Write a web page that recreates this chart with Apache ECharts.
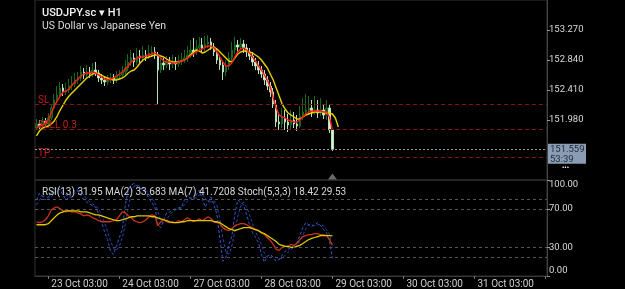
<!DOCTYPE html>
<html><head><meta charset="utf-8">
<script src="https://cdn.jsdelivr.net/npm/echarts@6/dist/echarts.min.js"></script>
<style>html,body{margin:0;padding:0;background:#000;}#c{width:625px;height:289px;}</style>
</head><body><div id="c"></div>
<script>
const tickLabels = ['23 Oct 03:00','24 Oct 03:00','27 Oct 03:00','28 Oct 03:00','29 Oct 03:00','30 Oct 03:00','31 Oct 03:00'];
// [open, close, low, high]
const candles = [
[151.865,151.923,151.837,151.994],[151.923,151.894,151.851,151.980],[151.894,151.966,151.865,152.023],[151.966,151.923,151.880,152.009],
[151.923,152.009,151.894,152.080],[152.009,152.152,151.980,152.209],[152.152,152.267,152.123,152.353],[152.267,152.338,152.224,152.467],
[152.338,152.439,152.295,152.525],[152.439,152.381,152.324,152.496],[152.381,152.410,152.338,152.510],[152.410,152.467,152.367,152.568],
[152.467,152.496,152.410,152.611],[152.496,152.553,152.453,152.654],[152.553,152.582,152.496,152.668],[152.582,152.668,152.539,152.754],
[152.668,152.625,152.568,152.725],[152.625,152.668,152.582,152.768],[152.668,152.639,152.582,152.740],[152.639,152.697,152.596,152.797],
[152.697,152.654,152.611,152.811],[152.654,152.582,152.525,152.697],[152.582,152.553,152.496,152.639],[152.553,152.525,152.467,152.611],
[152.525,152.553,152.482,152.625],[152.553,152.582,152.510,152.654],[152.582,152.553,152.496,152.639],[152.553,152.611,152.510,152.682],
[152.611,152.625,152.553,152.697],[152.625,152.668,152.582,152.754],[152.668,152.725,152.625,152.840],[152.725,152.811,152.682,152.926],
[152.811,152.869,152.754,152.983],[152.869,152.811,152.740,152.940],[152.811,152.897,152.768,153.012],[152.897,152.869,152.797,152.983],
[152.869,152.912,152.811,153.041],[152.912,152.883,152.826,152.983],[152.883,152.940,152.854,153.055],[152.940,152.955,152.883,153.041],
[152.955,152.912,152.854,153.026],[152.912,152.697,152.195,152.955],[152.697,152.797,152.654,152.869],[152.797,152.768,152.697,152.869],
[152.768,152.811,152.725,152.897],[152.811,152.783,152.697,152.883],[152.783,152.811,152.725,152.912],[152.811,152.783,152.697,152.883],
[152.783,152.826,152.740,152.912],[152.826,152.840,152.768,152.940],[152.840,152.869,152.797,152.983],[152.869,152.912,152.811,153.041],
[152.912,152.983,152.869,153.127],[152.983,152.955,152.883,153.155],[152.955,153.012,152.912,153.127],[153.012,153.055,152.955,153.170],
[153.055,153.012,152.955,153.155],[153.012,153.069,152.969,153.184],[153.069,153.098,153.012,153.198],[153.098,153.026,152.983,153.155],
[153.026,152.955,152.897,153.084],[152.955,152.840,152.783,153.012],[152.840,152.768,152.697,152.897],[152.768,152.668,152.553,152.811],
[152.668,152.754,152.611,152.840],[152.754,152.869,152.697,152.955],[152.869,152.983,152.811,153.098],[152.983,153.055,152.926,153.170],
[153.055,153.026,152.955,153.127],[153.026,153.069,152.983,153.155],[153.069,153.012,152.940,153.127],[153.012,152.955,152.883,153.069],
[152.955,152.897,152.840,153.012],[152.897,152.811,152.754,152.955],[152.811,152.754,152.697,152.869],[152.754,152.697,152.639,152.826],
[152.697,152.639,152.582,152.754],[152.639,152.553,152.482,152.697],[152.553,152.467,152.410,152.611],[152.467,152.381,152.310,152.525],
[152.381,152.195,152.152,152.439],[152.195,151.951,151.880,152.267],[151.951,151.923,151.837,152.095],[151.923,152.009,151.865,152.152],
[152.009,151.951,151.837,152.123],[151.951,151.908,151.808,152.066],[151.908,151.980,151.851,152.123],[151.980,151.923,151.865,152.095],
[151.923,151.894,151.822,152.052],[151.894,152.037,151.865,152.181],[152.037,152.095,151.980,152.295],[152.095,152.123,152.037,152.353],
[152.123,152.152,152.066,152.324],[152.152,152.095,152.023,152.267],[152.095,152.123,152.052,152.324],[152.123,152.080,152.009,152.267],
[152.080,152.123,152.037,152.295],[152.123,152.052,151.994,152.209],[152.052,152.152,151.980,152.267],[152.152,151.837,151.794,152.209],
[151.837,151.559,151.536,151.851]
];
const maFast = [151.865,151.894,151.908,151.937,151.980,152.080,152.181,152.252,152.324,152.381,
152.396,152.424,152.482,152.525,152.568,152.611,152.639,152.654,152.654,152.668,
152.654,152.625,152.596,152.568,152.553,152.568,152.582,152.611,152.639,152.668,
152.711,152.754,152.811,152.840,152.869,152.883,152.883,152.897,152.912,152.926,
152.940,152.912,152.869,152.826,152.811,152.811,152.797,152.797,152.811,152.826,
152.840,152.869,152.897,152.926,152.955,152.983,152.998,153.026,153.041,153.041,
153.012,152.955,152.883,152.811,152.754,152.754,152.797,152.883,152.955,152.998,
153.012,152.983,152.940,152.883,152.826,152.754,152.697,152.625,152.553,152.453,
152.295,152.152,152.052,152.023,152.009,151.980,151.966,151.951,151.951,151.980,
152.023,152.066,152.095,152.109,152.109,152.109,152.109,152.095,152.095,152.023,
151.837];
const maSlow = [151.751,151.822,151.865,151.880,151.894,151.923,151.966,152.037,152.123,152.195,
152.267,152.324,152.367,152.410,152.453,152.496,152.539,152.582,152.611,152.639,
152.654,152.639,152.625,152.596,152.582,152.568,152.553,152.553,152.568,152.582,
152.611,152.654,152.682,152.697,152.740,152.797,152.840,152.869,152.883,152.897,
152.912,152.912,152.897,152.883,152.854,152.826,152.811,152.811,152.811,152.826,
152.840,152.869,152.912,152.955,152.983,152.969,152.940,152.955,152.983,153.012,
153.026,152.998,152.955,152.912,152.869,152.826,152.811,152.869,152.926,152.955,
152.969,152.969,152.955,152.940,152.912,152.883,152.840,152.783,152.725,152.639,
152.553,152.439,152.324,152.209,152.138,152.080,152.052,152.023,151.994,151.994,
152.023,152.052,152.066,152.080,152.095,152.095,152.095,152.095,152.080,152.080,
152.066,152.009,151.880];
const rsiLine = [56.5,55.5,56.5,58.6,62.7,68.9,70.9,71.9,69.9,67.8,
66.8,67.8,66.8,66.8,65.8,64.7,62.7,63.7,62.7,60.6,
59.6,57.6,56.5,56.5,56.5,56.5,57.6,58.6,62.7,66.8,
65.8,62.7,60.6,57.6,56.5,55.5,56.5,58.6,61.7,63.7,
62.7,52.4,56.5,58.6,56.5,55.5,56.5,55.5,57.6,56.5,
58.6,60.6,58.6,56.5,57.6,59.6,57.6,59.6,61.7,59.6,
56.5,55.5,54.5,50.4,48.3,47.3,49.3,52.4,53.4,54.5,
54.5,53.4,51.4,50.4,48.3,47.3,45.2,43.2,40.1,37.0,
32.9,27.7,26.7,29.8,30.8,30.8,32.9,31.9,33.9,38.0,
41.1,42.1,43.2,43.2,44.2,44.2,43.2,43.2,42.1,38.0,
31.95];
const rsiMA = [53.4,53.4,53.4,53.4,54.5,57.6,60.6,63.7,65.8,66.8,
67.8,67.8,67.8,67.8,67.8,66.8,66.8,66.8,65.8,64.7,
63.7,63.7,62.7,61.7,60.6,59.6,58.6,57.6,57.6,58.6,
59.6,60.6,61.7,61.7,62.7,62.7,62.7,62.7,62.7,61.7,
61.7,60.6,59.6,58.6,57.6,56.5,55.5,55.5,55.5,56.5,
56.5,57.6,57.6,57.6,57.6,57.6,57.6,57.6,57.6,57.6,
56.5,56.5,55.5,53.4,51.4,49.3,48.3,47.3,48.3,49.3,
50.4,50.4,50.4,49.3,48.3,47.3,45.2,44.2,42.1,40.1,
38.0,36.0,32.9,31.9,30.8,30.8,29.8,29.8,30.8,31.9,
33.9,36.0,38.0,39.1,40.1,41.1,42.1,42.1,42.1,42.1,
41.72];
const stochMain = [79.1,86.3,83.2,79.1,82.2,86.3,89.4,92.5,89.4,84.3,
79.1,82.2,86.3,89.4,89.4,84.3,79.1,77.1,75.0,73.0,
71.9,63.7,55.5,46.2,38.0,25.7,22.6,30.8,40.1,48.3,
74.0,89.4,94.6,96.6,93.5,91.5,89.4,86.3,81.2,76.1,
71.9,53.4,50.4,58.6,65.8,66.8,68.9,69.9,70.9,71.9,
79.1,84.3,81.2,79.1,84.3,89.4,81.2,71.9,77.1,82.2,
74.0,63.7,38.0,15.4,19.5,32.9,41.1,63.7,79.1,77.1,
74.0,63.7,53.4,45.2,40.1,34.9,22.6,14.4,20.6,22.6,
19.5,15.4,17.5,21.6,25.7,27.7,29.8,31.9,34.9,42.1,
50.4,55.5,53.4,51.4,53.4,55.5,52.4,48.3,45.2,36.0,
18.42];
const stochSignal = [74.0,79.1,83.2,83.2,81.2,82.2,86.3,89.4,90.4,88.4,
84.3,82.2,82.2,86.3,88.4,87.4,84.3,80.2,77.1,75.0,
73.0,69.9,63.7,55.5,46.2,37.0,28.8,26.7,30.8,40.1,
53.4,70.9,86.3,93.5,94.6,93.5,91.5,89.4,85.3,81.2,
76.1,66.8,58.6,54.5,58.6,63.7,66.8,68.9,69.9,70.9,
74.0,78.1,81.2,81.2,81.2,84.3,85.3,81.2,77.1,77.1,
78.1,73.0,58.6,39.1,24.7,22.6,30.8,46.2,61.7,73.0,
77.1,72.0,63.7,54.5,46.2,40.1,32.9,23.6,19.5,19.5,
20.6,19.5,17.5,18.5,21.6,24.7,27.7,29.8,31.9,36.0,
42.1,49.3,53.4,53.4,52.4,53.4,53.4,52.4,48.3,43.2,
29.53];
const priceTicks = [153.270, 152.840, 152.410, 151.980];
const rsiTicks = [0, 30, 70, 100];
const rsiLevels = [20, 30, 70, 80];
const levelSL = 152.200, levelSell = 151.846, levelBid = 151.559, levelTP = 151.435;
const countdown = '53:39';

const font = 'Roboto, "Liberation Sans", sans-serif';
const totalSlots = 173, firstTick = 4, slotsPerDay = 24;
const slots = Array.from({length: totalSlots}, (_, i) => String(i));
const isTick = i => i >= firstTick && (i - firstTick) % slotsPerDay === 0;
const lastIdx = candles.length - 1;
const priceMin = 151.120, priceMax = 153.700;

const chart = echarts.init(document.getElementById('c'), null, {renderer: 'canvas', width: 625, height: 289});
const red = '#c0221e', lvl = '#7c1818';

chart.setOption({
  backgroundColor: '#000',
  animation: false,
  textStyle: {fontFamily: font},
  title: [
    {text: 'USDJPY.sc ▾ H1', left: 37, top: 3, textStyle: {color: '#f2f2f2', fontSize: 11, fontWeight: 500, fontFamily: font}},
    {text: 'US Dollar vs Japanese Yen', left: 37, top: 16, textStyle: {color: '#dcdcdc', fontSize: 10.5, fontWeight: 'normal', fontFamily: font}},
    {text: 'RSI(13) 31.95 MA(2) 33.683 MA(7) 41.7208 Stoch(5,3,3) 18.42 29.53', left: 37, top: 182, textStyle: {color: '#d6d6d6', fontSize: 10, fontWeight: 'normal', fontFamily: font}}
  ],
  grid: [
    {left: 35, right: 78, top: 0, height: 180, show: true, borderColor: '#333', borderWidth: 1},
    {left: 35, right: 78, top: 180, height: 97, show: true, borderColor: '#333', borderWidth: 1}
  ],
  xAxis: [
    {type: 'category', gridIndex: 0, data: slots, boundaryGap: true,
     axisLine: {show: false}, axisTick: {show: false}, axisLabel: {show: false}, splitLine: {show: false}},
    {type: 'category', gridIndex: 1, data: slots, boundaryGap: true,
     axisLine: {show: true, lineStyle: {color: '#3a3a3a'}},
     axisTick: {show: true, interval: (i) => isTick(i), alignWithLabel: true, length: 3, lineStyle: {color: '#777'}},
     axisLabel: {show: true, interval: (i) => isTick(i), formatter: (v, i) => tickLabels[(i - firstTick) / slotsPerDay],
       color: '#cfcfcf', fontSize: 10, margin: 3, align: 'left', padding: [0, 0, 0, 3], fontFamily: font},
     splitLine: {show: false}}
  ],
  yAxis: [
    {type: 'value', gridIndex: 0, position: 'right', min: priceMin, max: priceMax,
     splitLine: {show: false}, axisLine: {show: true, lineStyle: {color: '#444'}},
     axisTick: {show: true, customValues: priceTicks, length: 3, lineStyle: {color: '#999'}},
     axisLabel: {customValues: priceTicks, formatter: v => v.toFixed(3), color: '#dadada', fontSize: 9.5, margin: 2, fontFamily: font}},
    {type: 'value', gridIndex: 1, position: 'right', min: 0, max: 100,
     splitLine: {show: false}, axisLine: {show: true, lineStyle: {color: '#444'}},
     axisTick: {show: true, customValues: rsiTicks, length: 3, lineStyle: {color: '#999'}},
     axisLabel: {customValues: rsiTicks, formatter: v => v.toFixed(2), color: '#dadada', fontSize: 9.5, margin: 2,
       verticalAlignMaxLabel: 'top', verticalAlignMinLabel: 'bottom', fontFamily: font}}
  ],
  series: [
    {type: 'candlestick', xAxisIndex: 0, yAxisIndex: 0, data: candles, barWidth: 2,
     itemStyle: {color: '#0a4d10', color0: '#d2f5d7', borderColor: '#17691e', borderColor0: '#b5e2bb', borderWidth: 1},
     markLine: {silent: true, symbol: ['none', 'none'], animation: false,
       data: [
         {yAxis: levelSL, lineStyle: {color: lvl, type: [4, 3], width: 1},
          label: {position: 'insideStartTop', formatter: 'SL', color: red, fontSize: 10, distance: [3, -1], fontFamily: font}},
         {yAxis: levelSL, lineStyle: {opacity: 0},
          label: {position: 'end', formatter: levelSL.toFixed(3), color: '#f01c1c', fontSize: 9.5, distance: 2, fontFamily: font}},
         {yAxis: levelSell, lineStyle: {color: lvl, type: [4, 3], width: 1},
          label: {position: 'insideStartTop', formatter: 'SELL 0.3', color: red, fontSize: 10, distance: [3, -1], fontFamily: font}},
         {yAxis: levelSell, lineStyle: {opacity: 0},
          label: {position: 'end', formatter: levelSell.toFixed(3), color: '#e8382a', fontSize: 9.5, distance: 1,
            borderColor: '#8e201a', borderWidth: 1, padding: [1, 2, 0, 2], fontFamily: font}},
         {yAxis: levelBid, lineStyle: {color: '#9a9a9a', type: [2, 2], width: 1}, label: {show: false}},
         {yAxis: levelTP, lineStyle: {color: lvl, type: [4, 3], width: 1},
          label: {position: 'insideStartTop', formatter: 'TP', color: red, fontSize: 10, distance: [3, -1], fontFamily: font}}
       ]},
     markPoint: {silent: true, animation: false,
       data: [{coord: [String(lastIdx), priceMin + 0.05], symbol: 'triangle', symbolSize: [9, 6],
         itemStyle: {color: '#6a6a6a'}, label: {show: false}}]}
    },
    {type: 'line', xAxisIndex: 0, yAxisIndex: 0, data: maSlow, showSymbol: false, smooth: false,
     lineStyle: {color: '#e6d200', width: 1.4}},
    {type: 'line', xAxisIndex: 0, yAxisIndex: 0, data: maFast, showSymbol: false, smooth: false,
     lineStyle: {color: '#ff1a1a', width: 1.4}},
    {type: 'line', xAxisIndex: 1, yAxisIndex: 1, data: stochSignal, showSymbol: false,
     lineStyle: {color: '#2845a8', width: 1, type: [3, 2]},
     markLine: {silent: true, symbol: ['none', 'none'], label: {show: false}, animation: false,
       lineStyle: {color: '#555', type: [3, 3], width: 1},
       data: rsiLevels.map(v => ({yAxis: v}))}},
    {type: 'line', xAxisIndex: 1, yAxisIndex: 1, data: stochMain, showSymbol: false,
     lineStyle: {color: '#3558c8', width: 1, type: [3, 2]}},
    {type: 'line', xAxisIndex: 1, yAxisIndex: 1, data: rsiLine, showSymbol: false,
     lineStyle: {color: '#cc3418', width: 1.3}},
    {type: 'line', xAxisIndex: 1, yAxisIndex: 1, data: rsiMA, showSymbol: false,
     lineStyle: {color: '#dcc800', width: 1.3}}
  ]
});

const py = chart.convertToPixel({yAxisIndex: 0}, levelBid);
chart.setOption({
  graphic: [
    {type: 'rect', shape: {x: 548, y: py - 5.5, width: 38, height: 20}, style: {fill: '#8a9cb4'}, z: 100},
    {type: 'text', x: 550, y: py, z: 101, style: {text: levelBid.toFixed(3), fill: '#1e2836', font: '9.5px ' + font, verticalAlign: 'middle'}},
    {type: 'text', x: 550, y: py + 10, z: 101, style: {text: countdown, fill: '#1e2836', font: '9.5px ' + font, verticalAlign: 'middle'}},
    {type: 'text', x: 562, y: py + 19, z: 101, style: {text: '•••', fill: '#ffffff', font: '7px ' + font, verticalAlign: 'middle'}}
  ]
});
</script>
</body></html>
